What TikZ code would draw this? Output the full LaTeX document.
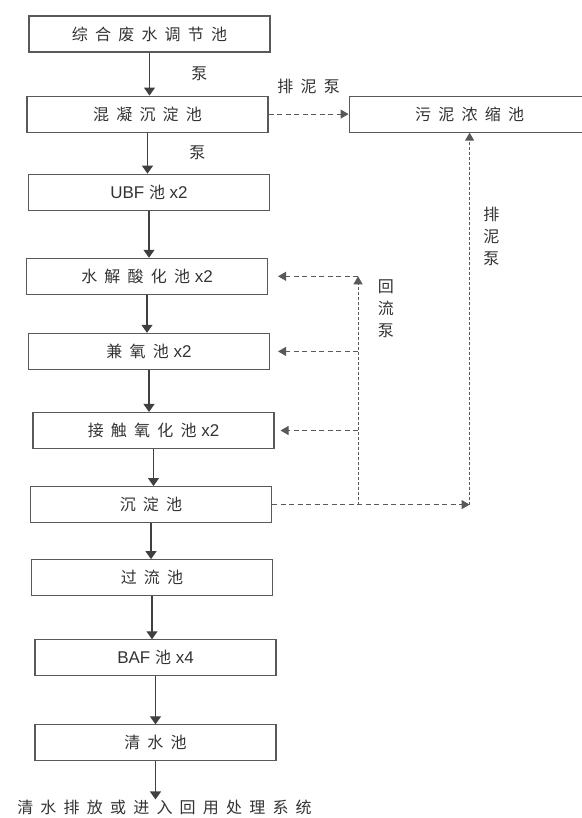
\documentclass[tikz,border=0pt]{standalone}
\usepackage{fontspec}
\setmainfont{Liberation Sans}
\newfontfamily\cjk[LetterSpace=45]{Noto Sans CJK SC}
\newcommand\zh[1]{{\fontsize{16}{20}\selectfont\cjk #1}}
\usetikzlibrary{arrows.meta, positioning}

\begin{document}
\begin{tikzpicture}[
        x=1pt, y=-1pt,
        every node/.style={font=\fontsize{17}{20}\selectfont, text=black!80},
        box/.style={draw=black!65, line width=1.1pt, minimum width=241pt, minimum height=36pt, align=center, inner sep=0pt},
        lab/.style={align=center, font=\fontsize{16}{22}\selectfont\cjk},
        flow/.style={-{Triangle[width=11pt,length=8pt]}, line width=1.1pt, draw=black!75},
        ret/.style={-{Triangle[width=9pt,length=8pt]}, line width=1pt, draw=black!65, dash pattern=on 5pt off 3.5pt},
        riser/.style={-{Triangle[width=9pt,length=8pt]}, line width=1pt, draw=black!65, dash pattern=on 3pt off 2pt}
    ]
        \useasboundingbox (0,0) rectangle (581,818);

        \node[box] (tiaojie) at (149.5,34) {\zh{综合废水调节池}};
        \node[box, below=43pt of tiaojie, xshift=-2pt] (hunning) {\zh{混凝沉淀池}};
        \node[box, below=41pt of hunning, xshift=1.5pt] (ubf) {UBF \zh{池} x2};
        \node[box, below=47pt of ubf, xshift=-2pt] (shuijie) {\zh{水解酸化池} x2};
        \node[box, below=38pt of shuijie, xshift=2pt] (jianyang) {\zh{兼氧池} x2};
        \node[box, below=42pt of jianyang, xshift=4.5pt] (jiechu) {\zh{接触氧化池} x2};
        \node[box, below=37pt of jiechu, xshift=-2.5pt] (chendian) {\zh{沉淀池}};
        \node[box, below=36pt of chendian, xshift=1pt] (guoliu) {\zh{过流池}};
        \node[box, below=43pt of guoliu, xshift=3.5pt] (baf) {BAF \zh{池} x4};
        \node[box, below=48pt of baf] (qingshui) {\zh{清水池}};
        \node[lab, inner sep=0pt, below=38pt of qingshui, xshift=9pt] (huiyong) {清水排放或进入回用处理系统};
        \node[box, right=80pt of hunning] (wuni) {\zh{污泥浓缩池}};

        \draw[flow] (tiaojie.south) -- node[lab, right=38pt, midway]{泵} (tiaojie.south |- hunning.north);
        \draw[flow] (hunning.south) -- node[lab, right=38pt, midway]{泵} (hunning.south |- ubf.north);
        \draw[flow] (ubf.south) -- (ubf.south |- shuijie.north);
        \draw[flow] (shuijie.south) -- (shuijie.south |- jianyang.north);
        \draw[flow] (jianyang.south) -- (jianyang.south |- jiechu.north);
        \draw[flow] (jiechu.south) -- (jiechu.south |- chendian.north);
        \draw[flow] (chendian.south) -- (chendian.south |- guoliu.north);
        \draw[flow] (guoliu.south) -- (guoliu.south |- baf.north);
        \draw[flow] (baf.south) -- (baf.south |- qingshui.north);
        \draw[flow] (qingshui.south) -- (qingshui.south |- huiyong.north);

        \coordinate (paini) at (wuni.south |- chendian.east);
        \coordinate[right=86pt of chendian.east] (huiliu);
        \draw[ret] (hunning) -- node[lab, above=16pt]{排泥泵} (wuni);
        \draw[ret] (chendian.east) -- (paini);
        \draw[riser] (paini) -- node[lab, right=10pt, pos=0.72]{排\\泥\\泵} (wuni.south);
        \draw[riser] (huiliu) -- node[lab, right=16pt, pos=0.86]{回\\流\\泵} (huiliu |- shuijie.east);
        \draw[ret] (huiliu |- shuijie.east) -- ([xshift=10pt]shuijie.east);
        \draw[ret] (huiliu |- jianyang.east) -- ([xshift=8pt]jianyang.east);
        \draw[ret] (huiliu |- jiechu.east) -- ([xshift=6pt]jiechu.east);
\end{tikzpicture}
\end{document}
